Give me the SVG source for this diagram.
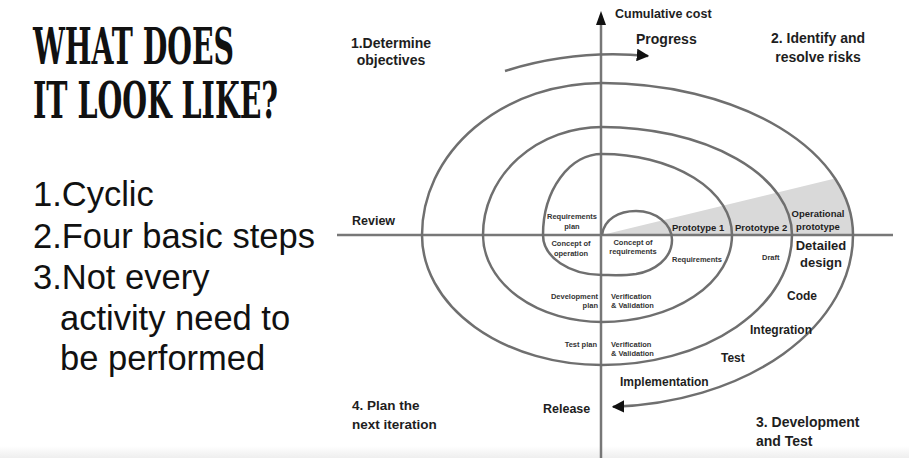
<svg xmlns="http://www.w3.org/2000/svg" width="909" height="458" viewBox="0 0 909 458">
  <defs>
    <style>
      .title { font-family: "DejaVu Serif Condensed", "DejaVu Serif", serif; font-weight: bold; font-size: 50px; fill: #111; }
      .list { font-family: "Liberation Sans", Arial, sans-serif; font-size: 34.5px; fill: #111; }
      .lbl { font-family: "Liberation Sans", Arial, sans-serif; font-weight: bold; fill: #1e1e1e; }
      .sm { font-family: "Liberation Sans", Arial, sans-serif; font-weight: bold; font-size: 7.5px; fill: #333; }
      .axis { stroke: #777; stroke-width: 2.5; fill: none; }
      .curve { stroke: #6f6f6f; stroke-width: 2.5; fill: none; }
    </style>
    <marker id="head" viewBox="0 0 10 10" refX="9" refY="5" markerWidth="5" markerHeight="5" orient="auto" markerUnits="strokeWidth">
      <path d="M0,0 L10,5 L0,10 Z" fill="#111"/>
    </marker>
    <linearGradient id="strip" x1="0" y1="0" x2="0" y2="1">
      <stop offset="0" stop-color="#ffffff"/>
      <stop offset="1" stop-color="#eeeeee"/>
    </linearGradient>
  </defs>

  <rect width="909" height="458" fill="#fff"/>
  <rect x="0" y="446" width="909" height="12" fill="url(#strip)"/>

  <!-- heading and bullet list -->
  <g id="heading">
    <text class="title" x="33" y="64" textLength="201" lengthAdjust="spacingAndGlyphs">WHAT DOES</text>
    <text class="title" x="33" y="118" textLength="245" lengthAdjust="spacingAndGlyphs">IT LOOK LIKE?</text>
  </g>
  <g id="points">
    <text class="list" x="33" y="206">1.Cyclic</text>
    <text class="list" x="33" y="248">2.Four basic steps</text>
    <text class="list" x="33" y="289">3.Not every</text>
    <text class="list" x="60" y="330">activity need to</text>
    <text class="list" x="60" y="370">be performed</text>
  </g>

  <!-- shaded prototype wedge -->
  <g id="wedge">
    <path d="M602,235 L835,178.5 A251,152 0 0 1 853,235 Z" fill="#d9d9d9"/>
  </g>

  <!-- axes, spiral and progress arrow -->
  <g id="connectors">
    <line class="axis" x1="337" y1="235" x2="893" y2="235"/>
    <line class="axis" x1="601" y1="458" x2="601" y2="22"/>
    <path d="M601,11 L596,25 L606,25 Z" fill="#111"/>
    <path class="curve" d="M602,235 C604,219 619,211 636,211 C656,211 672,224 672,240 C672,259 654,271 636,274 C622,276 610,275 602,275
      A59,40 0 0 1 543,235
      A59,81 0 0 1 602,154
      A130,81 0 0 1 732,235
      A130,87 0 0 1 602,322
      A119,87 0 0 1 483,235
      A119,108 0 0 1 602,127
      A190,108 0 0 1 792,235
      A190,130 0 0 1 602,365
      A180,130 0 0 1 422,235
      A180,152 0 0 1 602,83
      A251,152 0 0 1 853,235
      A251,172 0 0 1 613,406.8" marker-end="url(#head)"/>
    <path class="curve" d="M505,71 Q575,49 648,56" marker-end="url(#head)"/>
  </g>

  <!-- quadrant titles -->
  <g id="q1">
    <text class="lbl" font-size="14" x="391" y="48" text-anchor="middle">1.Determine</text>
    <text class="lbl" font-size="14" x="391" y="65" text-anchor="middle">objectives</text>
  </g>
  <g id="q2">
    <text class="lbl" font-size="14" x="818" y="43" text-anchor="middle">2. Identify and</text>
    <text class="lbl" font-size="14" x="818" y="62" text-anchor="middle">resolve risks</text>
  </g>
  <g id="q3">
    <text class="lbl" font-size="14" x="756" y="427">3. Development</text>
    <text class="lbl" font-size="14" x="756" y="446">and Test</text>
  </g>
  <g id="q4">
    <text class="lbl" font-size="13.5" x="352" y="410">4. Plan the</text>
    <text class="lbl" font-size="13.5" x="352" y="429">next iteration</text>
  </g>

  <!-- axis labels -->
  <g id="axis-labels">
    <text class="lbl" font-size="12.5" x="615" y="18">Cumulative cost</text>
    <text class="lbl" font-size="14" x="636" y="44">Progress</text>
    <text class="lbl" font-size="12.5" x="352" y="225">Review</text>
    <text class="lbl" font-size="12.5" x="543" y="413">Release</text>
  </g>

  <!-- spiral activities -->
  <g id="inner">
    <text class="sm" x="572" y="219" text-anchor="middle">Requirements</text>
    <text class="sm" x="572" y="229" text-anchor="middle">plan</text>
    <text class="sm" x="571" y="246" text-anchor="middle">Concept of</text>
    <text class="sm" x="571" y="256" text-anchor="middle">operation</text>
    <text class="sm" x="633" y="245" text-anchor="middle">Concept of</text>
    <text class="sm" x="633" y="254" text-anchor="middle">requirements</text>
    <text class="sm" x="672" y="262">Requirements</text>
    <text class="sm" x="762" y="260">Draft</text>
    <text class="sm" x="598" y="299" text-anchor="end">Development</text>
    <text class="sm" x="598" y="308" text-anchor="end">plan</text>
    <text class="sm" x="611" y="299">Verification</text>
    <text class="sm" x="611" y="308">&amp; Validation</text>
    <text class="sm" x="597" y="347" text-anchor="end">Test plan</text>
    <text class="sm" x="611" y="347">Verification</text>
    <text class="sm" x="611" y="356">&amp; Validation</text>
  </g>
  <g id="prototypes">
    <text class="lbl" font-size="9.5" x="672" y="231">Prototype 1</text>
    <text class="lbl" font-size="9.5" x="735" y="231">Prototype 2</text>
    <text class="lbl" font-size="9.5" x="818" y="217" text-anchor="middle">Operational</text>
    <text class="lbl" font-size="9.5" x="818" y="230" text-anchor="middle">prototype</text>
  </g>
  <g id="outer">
    <text class="lbl" font-size="13" x="821" y="250" text-anchor="middle">Detailed</text>
    <text class="lbl" font-size="13" x="821" y="267" text-anchor="middle">design</text>
    <text class="lbl" font-size="12" x="787" y="300">Code</text>
    <text class="lbl" font-size="12" x="750" y="334">Integration</text>
    <text class="lbl" font-size="12" x="721" y="362">Test</text>
    <text class="lbl" font-size="12" x="620" y="386">Implementation</text>
  </g>
</svg>
